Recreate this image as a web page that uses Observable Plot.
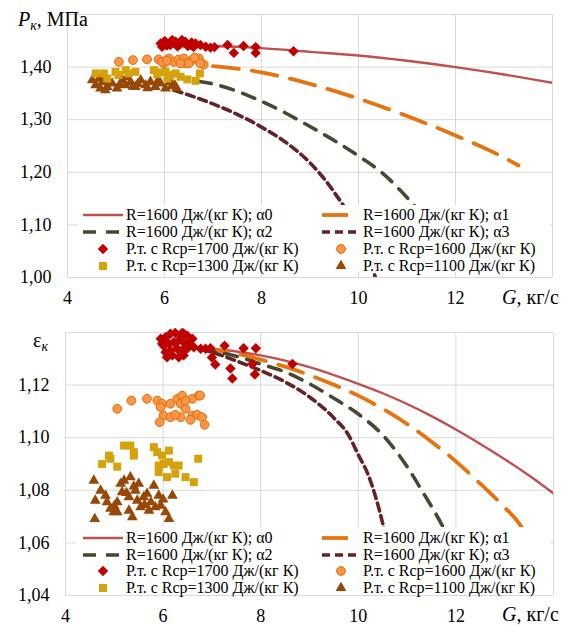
<!DOCTYPE html>
<html><head><meta charset="utf-8">
<script src="https://cdn.jsdelivr.net/npm/d3@7"></script>
<script src="https://cdn.jsdelivr.net/npm/@observablehq/plot@0.6"></script>
<style>
body{margin:0;background:#fff;font-family:"Liberation Serif","Times New Roman",Times,"DejaVu Serif",serif;color:#000;}
#wrap{position:relative;width:564px;height:626px;overflow:hidden;}
.panel{position:absolute;left:0;width:564px;height:313px;}
.panel svg{display:block;}
.lab{position:absolute;font-size:20px;white-space:nowrap;line-height:20px;}
.lab i{font-style:italic;}
.lab sub{font-size:14px;font-style:italic;vertical-align:-4px;line-height:0;}
.lg{position:absolute;background:#fff;}
.it{position:absolute;font-size:16px;line-height:18px;white-space:nowrap;}
.smp{position:absolute;}
</style></head>
<body><div id="wrap">
<div id="toppanel" class="panel" style="top:0"></div>
<div id="botpanel" class="panel" style="top:313px"></div>
</div>
<script>
const FONT = '"Liberation Serif","Times New Roman",Times,"DejaVu Serif",serif';
// ---------- axes ----------
const xTicks = [4, 6, 8, 10, 12];
const xGrid = [4, 6, 8, 10, 12, 14];
const pTicks = [1.00, 1.10, 1.20, 1.30, 1.40];
const pGrid = [1.00, 1.10, 1.20, 1.30, 1.40, 1.50];
const eTicks = [1.04, 1.06, 1.08, 1.10, 1.12];
const eGrid = [1.04, 1.06, 1.08, 1.10, 1.12, 1.14];

// ---------- series names ----------
const lineNames = ["R=1600 Дж/(кг К); α0", "R=1600 Дж/(кг К); α1", "R=1600 Дж/(кг К); α2", "R=1600 Дж/(кг К); α3"];
const dotNames = ["Р.т. с Rср=1700 Дж/(кг К)", "Р.т. с Rср=1600 Дж/(кг К)", "Р.т. с Rср=1300 Дж/(кг К)", "Р.т. с Rср=1100 Дж/(кг К)"];

// ---------- top panel: P_k curves ----------
const pA0G = [6.0, 7, 8, 9, 10, 11, 12, 13, 14];
const pA0 = [1.442, 1.440, 1.436, 1.429, 1.422, 1.412, 1.400, 1.386, 1.370];
const pA1G = [7.0, 8, 9, 10, 11, 12, 13, 13.3];
const pA1 = [1.402, 1.390, 1.368, 1.340, 1.307, 1.270, 1.228, 1.213];
const pA2G = [6.7, 7, 8, 9, 10, 10.5, 11, 11.5, 11.9];
const pA2 = [1.373, 1.368, 1.335, 1.287, 1.231, 1.198, 1.152, 1.098, 1.045];
const pA3G = [6.2, 6.5, 7, 7.5, 8, 8.5, 9, 9.5, 10, 10.35];
const pA3 = [1.356, 1.347, 1.330, 1.310, 1.286, 1.257, 1.218, 1.162, 1.085, 1.000];

// ---------- top panel: test points ----------
const pDG = [5.92,6.02,6.12,6.23,6.33,6.43,6.54,6.64,6.74,6.85,5.95,6.16,6.36,6.05,6.27,6.48,6.6,6.95,7.03,7.3,7.43,7.63,7.88,7.88,8.66,6.0,6.2,6.4,6.56];
const pD = [1.4451,1.4482,1.4419,1.4482,1.4438,1.4482,1.4419,1.4451,1.4419,1.4387,1.4387,1.4514,1.4514,1.441,1.439,1.440,1.438,1.437,1.438,1.442,1.427,1.440,1.438,1.427,1.430,1.449,1.446,1.446,1.447];
const pCG = [5.06,5.35,5.64,5.88,5.99,6.09,6.19,6.29,6.4,6.43,6.57,6.71,6.81,5.95,6.5,6.33,6.74,6.05,6.62];
const pC = [1.410,1.4133,1.4146,1.4146,1.407,1.4165,1.410,1.4146,1.4165,1.407,1.4133,1.4165,1.405,1.410,1.407,1.407,1.407,1.412,1.418];
const pSG = [4.58,4.75,4.82,4.99,5.2,5.26,5.4,5.78,5.85,6.02,6.12,6.23,6.33,6.47,6.64,6.73,6.06,5.05,5.9];
const pS = [1.388,1.388,1.3784,1.391,1.3943,1.388,1.391,1.3943,1.3867,1.391,1.3848,1.388,1.3816,1.3766,1.3739,1.388,1.3784,1.385,1.39];
const pTG = [4.51,4.58,4.68,4.72,4.82,4.92,5.02,5.13,5.2,5.3,5.4,5.51,5.61,5.71,5.81,5.92,6.02,6.12,6.21,6.25,4.65,5.23,4.78,5.45,5.65,5.87,6.15,5.08,5.35];
const pT = [1.3752,1.3657,1.3594,1.372,1.3625,1.369,1.3594,1.3752,1.3657,1.372,1.3625,1.3752,1.3657,1.372,1.3625,1.369,1.3594,1.372,1.3657,1.360,1.378,1.3816,1.356,1.368,1.360,1.375,1.364,1.366,1.363];

// ---------- bottom panel: eps_k curves ----------
const eA0G = [6.6,7,7.5,8,8.5,9,9.5,10,10.5,11,11.5,12,12.5,13,13.5,14];
const eA0 = [1.1344,1.1338,1.1328,1.1313,1.1293,1.1268,1.1238,1.1205,1.1169,1.1128,1.1082,1.1031,1.0976,1.0918,1.0856,1.0788];
const eA1G = [6.8,7,7.5,8,8.5,9,9.5,10,10.5,11,11.5,12,12.5,13,13.28,13.45];
const eA1 = [1.134,1.1335,1.132,1.1297,1.127,1.1238,1.1201,1.1160,1.1110,1.1052,1.0985,1.0910,1.0825,1.0735,1.0678,1.063];
const eA2G = [6.8,7,7.5,8,8.5,9,9.5,10,10.5,11,11.3,11.68,11.85];
const eA2 = [1.134,1.133,1.131,1.128,1.125,1.1205,1.115,1.109,1.101,1.089,1.080,1.068,1.062];
const eA3G = [6.8,7,7.5,8,8.5,9,9.5,9.8,10,10.2,10.5,10.75];
const eA3 = [1.1335,1.1325,1.1292,1.1255,1.1212,1.1155,1.1075,1.101,1.0935,1.086,1.0674,1.045];

// ---------- bottom panel: test points ----------
const eDG = [5.95,6.05,6.15,6.25,6.39,6.42,6.49,6.6,6.01,6.12,6.22,6.32,6.42,6.53,6.05,6.15,6.29,6.39,6.49,6.63,6.08,6.19,6.32,6.42,6.77,6.87,5.98,6.36,6.97,7.0,7.07,7.26,7.38,7.42,7.65,7.83,7.88,7.9,8.65];
const eD = [1.1376,1.1382,1.1395,1.1398,1.1398,1.1396,1.1389,1.1376,1.135,1.1357,1.1363,1.137,1.1363,1.1357,1.1325,1.1332,1.1338,1.1332,1.1338,1.1344,1.1306,1.1313,1.1306,1.1313,1.1338,1.1338,1.1357,1.1389,1.134,1.1305,1.1278,1.135,1.1263,1.1225,1.134,1.128,1.124,1.134,1.128];
const eCG = [5.06,5.35,5.67,5.88,5.98,5.95,6.15,6.29,6.39,6.36,6.46,6.6,6.73,6.76,6.01,6.15,6.36,6.25,6.6,6.7,6.8,6.56,5.93,6.85,6.46];
const eC = [1.111,1.1141,1.1148,1.1141,1.1129,1.1116,1.1129,1.1148,1.116,1.1129,1.111,1.1148,1.116,1.116,1.1084,1.1078,1.1078,1.1087,1.1084,1.1087,1.1078,1.1068,1.1059,1.1049,1.1141];
const eSG = [4.75,4.89,4.92,5.06,5.2,5.33,5.4,5.4,5.81,5.88,5.98,6.12,5.91,6.01,6.12,6.22,6.32,6.08,6.25,6.46,6.63,6.72,5.91];
const eS = [1.090,1.0932,1.092,1.089,1.097,1.097,1.0945,1.0932,1.0964,1.0945,1.0932,1.0951,1.0894,1.090,1.0907,1.0894,1.0894,1.085,1.0863,1.085,1.0831,1.092,1.0869];
const eTG = [4.58,4.72,4.61,4.6,4.82,4.85,4.92,4.99,5.06,5.13,5.2,5.33,5.16,5.3,5.3,5.43,5.47,5.54,5.37,5.6,5.67,5.71,5.81,5.91,5.95,6.05,6.12,6.19,5.84,5.06,5.5,5.0,5.25,5.75,6.0,5.62,5.4];
const eT = [1.0837,1.0799,1.0761,1.0691,1.078,1.0755,1.073,1.0717,1.0755,1.0825,1.0837,1.085,1.0793,1.0723,1.0774,1.0799,1.0761,1.0736,1.0698,1.0774,1.0787,1.0723,1.0818,1.078,1.0742,1.0717,1.0691,1.078,1.0736,1.0717,1.0825,1.074,1.079,1.0755,1.0765,1.0745,1.0815];

// ---------- styles ----------
const lineStyles = [
  {stroke: "#c0504d", strokeWidth: 2.4, dash: null},
  {stroke: "#e8730c", strokeWidth: 3.8, dash: "26 13"},
  {stroke: "#4a4630", strokeWidth: 3.6, dash: "13 10"},
  {stroke: "#632523", strokeWidth: 3.6, dash: "8 5"}
];
const dotStyles = [
  {symbol: "diamond2", fill: "#c00000", stroke: "none", r: 4.7},
  {symbol: "circle", fill: "#f79646", stroke: "#e46c0a", r: 4.4},
  {symbol: "square", fill: "#d6a20c", stroke: "none", r: 4.5},
  {symbol: "triangle", fill: "#974706", stroke: "none", r: 4.0}
];

const zip = (g, v) => g.map((x, i) => ({x, y: v[i]}));
const fmt = d => d.toFixed(2).replace(".", ",");

function makePanel(opts) {
  const {yDomain, yTicks, yGrid, curves, dots, mt, mb, ml, mr} = opts;
  const marks = [
    Plot.ruleY(yGrid, {stroke: "#d9d9d9", strokeWidth: 1}),
    Plot.ruleX(xGrid, {stroke: "#d9d9d9", strokeWidth: 1})
  ];
  curves.forEach((c, i) => {
    const s = lineStyles[i];
    marks.push(Plot.line(c, {x: "x", y: "y", curve: "monotone-x", stroke: s.stroke,
      strokeWidth: s.strokeWidth, strokeDasharray: s.dash || undefined, clip: true}));
  });
  [3, 2, 1, 0].forEach(i => {
    const s = dotStyles[i];
    marks.push(Plot.dot(dots[i], {x: "x", y: "y", symbol: s.symbol, fill: s.fill,
      stroke: s.stroke, strokeWidth: 1, r: s.r}));
  });
  return Plot.plot({
    width: 564, height: 313, marginTop: mt, marginBottom: mb, marginLeft: ml, marginRight: mr,
    style: {fontFamily: FONT, fontSize: "18px", color: "#000", background: "transparent"},
    x: {domain: [4, 14], ticks: xTicks, tickSize: 0, tickPadding: 14, label: null, tickFormat: d => String(d)},
    y: {domain: yDomain, ticks: yTicks, tickSize: 0, tickPadding: 16, label: null, tickFormat: fmt},
    marks
  });
}

function sampleSvg(kind, idx, w) {
  const svg = d3.create("svg").attr("width", w).attr("height", 14);
  if (kind === "line") {
    const s = lineStyles[idx];
    svg.append("line").attr("x1", 0).attr("x2", w).attr("y1", 7).attr("y2", 7)
      .attr("stroke", s.stroke).attr("stroke-width", s.strokeWidth)
      .attr("stroke-dasharray", s.dash || null);
  } else {
    const s = dotStyles[idx];
    const map = {diamond2: d3.symbolDiamond2, circle: d3.symbolCircle, square: d3.symbolSquare, triangle: d3.symbolTriangle};
    const size = s.r * s.r * Math.PI;
    svg.append("path").attr("transform", `translate(${w / 2},7)`)
      .attr("d", d3.symbol(map[s.symbol], size)())
      .attr("fill", s.fill).attr("stroke", s.stroke === "none" ? null : s.stroke).attr("stroke-width", 1);
  }
  return svg.node();
}

function addLegend(host, box, rowsY) {
  const lg = document.createElement("div");
  lg.className = "lg";
  Object.assign(lg.style, {left: box.left + "px", top: box.top + "px", width: box.w + "px", height: box.h + "px"});
  host.appendChild(lg);
  const items = [["line", 0, 0, 0], ["line", 1, 1, 0], ["line", 2, 0, 1], ["line", 3, 1, 1],
                 ["dot", 0, 0, 2], ["dot", 1, 1, 2], ["dot", 2, 0, 3], ["dot", 3, 1, 3]];
  const cols = [{s: 83, w: 40, t: 126}, {s: 322, w: 38, t: 363}];
  items.forEach(([kind, idx, c, r]) => {
    const col = cols[c];
    const svg = sampleSvg(kind, idx, col.w);
    svg.classList.add("smp");
    svg.style.left = col.s + "px";
    svg.style.top = (rowsY[r] - 7) + "px";
    host.appendChild(svg);
    const t = document.createElement("div");
    t.className = "it";
    t.textContent = kind === "line" ? lineNames[idx] : dotNames[idx];
    t.style.left = col.t + "px";
    t.style.top = (rowsY[r] - 9) + "px";
    host.appendChild(t);
  });
}

function addLabel(host, html, css) {
  const d = document.createElement("div");
  d.className = "lab";
  d.innerHTML = html;
  Object.assign(d.style, css);
  host.appendChild(d);
}

// ---------- top ----------
const topEl = document.getElementById("toppanel");
topEl.appendChild(makePanel({
  yDomain: [1.0, 1.5], yTicks: pTicks, yGrid: pGrid,
  curves: [zip(pA0G, pA0), zip(pA1G, pA1), zip(pA2G, pA2), zip(pA3G, pA3)],
  dots: [zip(pDG, pD), zip(pCG, pC), zip(pSG, pS), zip(pTG, pT)],
  mt: 14, mb: 36, ml: 67, mr: 12
}));
addLegend(topEl, {left: 78, top: 205, w: 472, h: 67}, [215, 232, 249, 266]);
addLabel(topEl, '<i>P</i><sub>к</sub>, МПа', {left: "18px", top: "9px"});
addLabel(topEl, '<i>G</i>, кг/с', {left: "502px", top: "287px"});

// ---------- bottom ----------
const botEl = document.getElementById("botpanel");
botEl.appendChild(makePanel({
  yDomain: [1.04, 1.14], yTicks: eTicks, yGrid: eGrid,
  curves: [zip(eA0G, eA0), zip(eA1G, eA1), zip(eA2G, eA2), zip(eA3G, eA3)],
  dots: [zip(eDG, eD), zip(eCG, eC), zip(eSG, eS), zip(eTG, eT)],
  mt: 19, mb: 31, ml: 65, mr: 11
}));
addLegend(botEl, {left: 76, top: 214, w: 474, h: 67}, [225, 242, 258, 275]);
addLabel(botEl, 'ε<sub>к</sub>', {left: "33px", top: "17px"});
addLabel(botEl, '<i>G</i>, кг/с', {left: "502px", top: "291px"});
</script>
</body></html>
